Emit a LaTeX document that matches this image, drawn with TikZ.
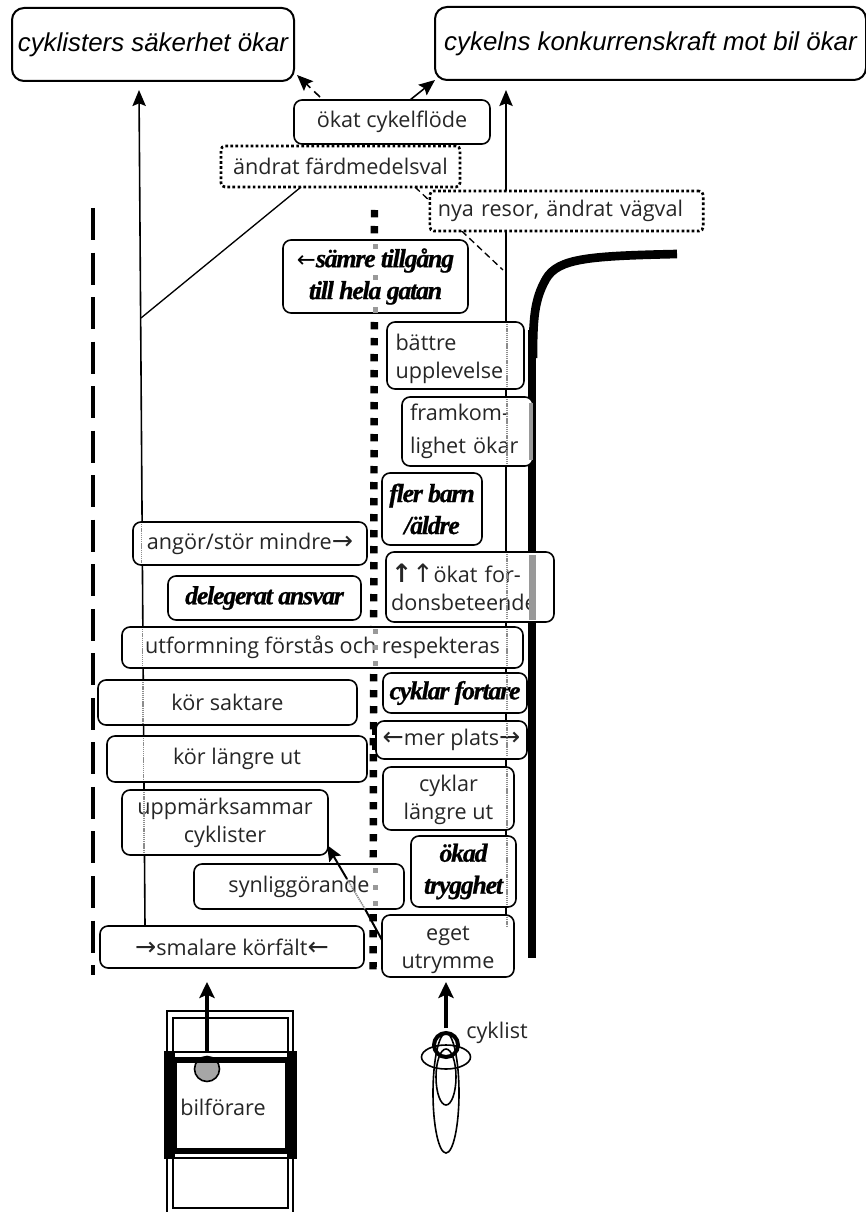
\documentclass[tikz,border=0pt]{standalone}
\usepackage{fontspec}
\setmainfont{Open Sans}
\newfontfamily\headfont{Liberation Sans}
\newfontfamily\boldserif{Liberation Serif}[LetterSpace=-5,FakeBold=0.8]
\newfontfamily\symfont{DejaVu Sans}
\usetikzlibrary{arrows.meta,backgrounds,calc}
\newcommand\ra{{\symfont\fontsize{19}{21}\selectfont →}}
\newcommand\la{{\symfont\fontsize{19}{21}\selectfont ←}}
\newcommand\ua{{\symfont\fontsize{19}{21}\selectfont ↑}}
\newcommand\bx[7][]{\node[boxx,#1,minimum width={(#5-#3)*.75pt},minimum height={(#6-#4)*.75pt}] (#2) at ({(#3+#5)/2},{(#4+#6)/2}) {#7};}
\tikzset{
  boxx/.style={draw=black,fill=white,line width=1.2pt,rounded corners=6pt,inner xsep=1pt,inner ysep=1pt,outer sep=0pt,align=center,text=black!85,font=\fontsize{16.2}{21}\selectfont},
  headbox/.style={rounded corners=9pt,line width=1.5pt,text=black,font=\headfont\itshape\fontsize{19.4}{22}\selectfont},
  dotbox/.style={line width=2pt,dash pattern=on 2pt off 1.8pt,rounded corners=3pt},
  emph box/.style={text=black,font=\boldserif\bfseries\itshape\fontsize{19.5}{24}\selectfont},
  leftbox/.style={align=left,inner xsep=6pt},
  conn/.style={draw=black,line width=1.2pt},
  tip/.style={-{Stealth[length=12pt,width=10pt,inset=2pt]}},
  through/.style={draw=black!45,line width=1.1pt,dash pattern=on 1pt off .6pt},
  dither/.style={fill=black!40},
  carline/.style={draw=black,line width=2pt},
  moveup/.style={draw=black,line width=3pt,-{Stealth[length=12pt,width=11.5pt,inset=2.5pt]}},
}
\begin{document}
\begin{tikzpicture}[x=.75pt,y=-.75pt]
\useasboundingbox (0,0) rectangle (866,1212);
\clip (0,0) rectangle (866,1212);

\bx[headbox]{sak}{12}{8}{294}{81}{\raisebox{-3.5pt}{cyklisters säkerhet ökar}}
\bx[headbox]{kon}{435}{7}{866}{80}{\raisebox{-3pt}{cykelns konkurrenskraft mot bil ökar}}
\bx{flode}{294}{100}{490}{144}{ökat cykelflöde}
\bx[dotbox]{farm}{221}{146}{460}{187}{ändrat färdmedelsval}
\bx[dotbox,leftbox,text width=193pt]{nya}{430}{191}{703}{231}{nya resor, ändrat vägval}
\bx[emph box]{samre}{283}{240}{468}{313}{{\normalfont\symfont\fontsize{17}{21}\selectfont ←}sämre tillgång\\till hela gatan}
\bx[leftbox,text width=90pt]{batt}{387}{322}{524}{389}{\rule{0pt}{18pt}bättre\\upplevelse}
\bx[leftbox,text width=86pt,font=\fontsize{16.2}{25}\selectfont]{fram}{402}{397}{533}{466}{framkom-\\lighet ökar}
\bx[emph box]{barn}{382}{473}{482}{545}{fler barn\\/äldre}
\bx{angor}{133}{522}{367}{565}{\raisebox{-3.5pt}{angör/stör mindre\ra}}
\bx[leftbox,inner xsep=3.75pt,text width=118.4pt]{okat}{386}{552}{554}{622}{{\symfont\bfseries\fontsize{19}{21}\selectfont ↑}\ua ökat for-\\donsbeteende}
\bx[emph box]{deleg}{168}{576}{361}{620}{delegerat ansvar}
\bx{utform}{122}{627}{523}{668}{utformning förstås och respekteras}
\bx{saktare}{98}{680}{357}{725}{kör saktare}
\bx[emph box]{fort}{383}{673}{527}{713}{cyklar fortare}
\bx{plats}{376}{721}{527}{759}{\la mer plats\ra}
\bx{langre}{107}{736}{367}{782}{kör längre ut}
\bx{cyklar}{383}{767}{514}{830}{\rule{0pt}{15pt}cyklar\\längre ut}
\bx{uppm}{122}{790}{328}{855}{uppmärksammar\\cyklister}
\bx[emph box]{trygg}{411}{836}{516}{907}{ökad\\trygghet}
\bx{synlig}{194}{864}{404}{909}{synliggörande}
\bx{smal}{100}{926}{364}{968}{\ra smalare körfält\la}
\bx{eget}{382}{915}{514}{977}{\rule{0pt}{17pt}eget\\utrymme}

\coordinate (lTip) at (139,90);
\coordinate (lBot) at (145,926);
\coordinate (rTip) at (506,90);
\coordinate (join) at (141,318);
\coordinate (dA) at (320,97);
\coordinate (dB) at (415,187);
\coordinate (dC) at (503,270);
\coordinate (sA) at (301,187);
\coordinate (road0) at (533,358);
\coordinate (road1) at (532,330);
\coordinate (road2) at (532,958);
\coordinate (road3) at (677,254);
\coordinate (laneA) at (93,208);
\coordinate (laneB) at (93,975);
\coordinate (midA) at (374.5,210);
\coordinate (midB) at (373,972);
\coordinate (upA) at (381,940);
\coordinate (upB) at (327,845);

\begin{scope}[on background layer]
  \draw[line width=3pt,dash pattern=on 24pt off 9.4pt] (laneA) -- (laneB);
  \draw[line width=5.6pt,dash pattern=on 5.6pt off 6.4pt] (midA) -- (midB);
  \draw[line width=6pt] (road1) -- (road2);
  \draw[line width=6.5pt] (road0) .. controls (533,320) and (534,300) .. (546,279) .. controls (558,258) and (590,256) .. (road3);
  \draw[conn,tip] (lBot) -- (lTip);
  \draw[conn,tip] (rTip |- eget.north) -- (rTip);
  \draw[conn,line width=1pt] (sA) -- (join);
  \draw[conn,line width=1pt,dash pattern=on 5pt off 3pt] (dB) -- (dC);
  \draw[conn] (farm.north -| 352,0) -- (flode.south -| 355,0);
\end{scope}

\draw[conn,tip,dash pattern=on 6pt off 4pt] (dA) -- ([shift={(3,-6)}]sak.south east);
\draw[conn,tip] (flode.north -| 410,0) -- (kon.south west);

% line seen through the boxes
\foreach \a/\b in {322/389,397/466,552/622,627/668,673/713,721/759,767/830,836/907,915/928}
  \draw[through] (507,\a+2) -- (507,\b-2);
\foreach \a/\b/\c in {522/565/141.5,627/668/142.5,680/725/143,736/782/143.5,790/855/144}
  \draw[through] (\c,\a+2) -- (\c,\b-2);
\fill[dither] (528.5,403) rectangle (533,460);
\fill[dither] (528.5,555) rectangle (536,620);
\foreach \y in {247,278,310,631,647,663,870,887,903}
  \fill[dither] (372.5,\y-2.5) rectangle (377.5,\y+2.5);
% dark marks of the centre line inside the box of mer plats
\fill[black] (372,726) rectangle (376,735);
\fill[black] (372,742) rectangle (376,750);

% arrow from eget utrymme to uppmärksammar cyklister
\draw[conn,line width=1.5pt] (eget.west |- upA) -- (365,909);
\draw[through,line width=1.2pt] (365,909) -- (347,879);
\draw[conn,tip,line width=1.5pt] (347,879) -- (upB);

% car
\fill[black] (165,1052) rectangle (175,1158);
\fill[black] (287,1052) rectangle (296,1158);
\draw[carline] (167,1011) rectangle (293,1220);
\draw[carline,line width=1.5pt] (173,1018) rectangle (288,1208);
\fill[white] (176,1063) rectangle (285,1148);
\filldraw[fill=black!35,draw=black,line width=1.2pt] (207,1069) circle (12.5);
\draw[black,line width=2pt] (165,1052) rectangle (296,1158);
\draw[black,line width=4.5pt] (173.5,1060) rectangle (287.5,1151);
\coordinate (carTail) at (207,1052);
\coordinate (carTip) at (207,982);
\draw[moveup] (carTail) -- (carTip);
\node[boxx,draw=none,fill=none] (bil) at (223,1107) {bilförare};

% cyclist
\draw[line width=1.2pt] (446,1093) ellipse (13 and 60);
\draw[line width=1.2pt] (446,1077) ellipse (10 and 28);
\draw[line width=1.2pt] (446,1057) ellipse (24.5 and 12);
\draw[line width=3pt] (446,1045) circle (12);
\coordinate (cycTail) at (446,1028);
\coordinate (cycTip) at (446,982);
\draw[moveup] (cycTail) -- (cycTip);
\node[boxx,draw=none,fill=none] (cyk) at (497,1033) {cyklist};
\end{tikzpicture}
\end{document}
